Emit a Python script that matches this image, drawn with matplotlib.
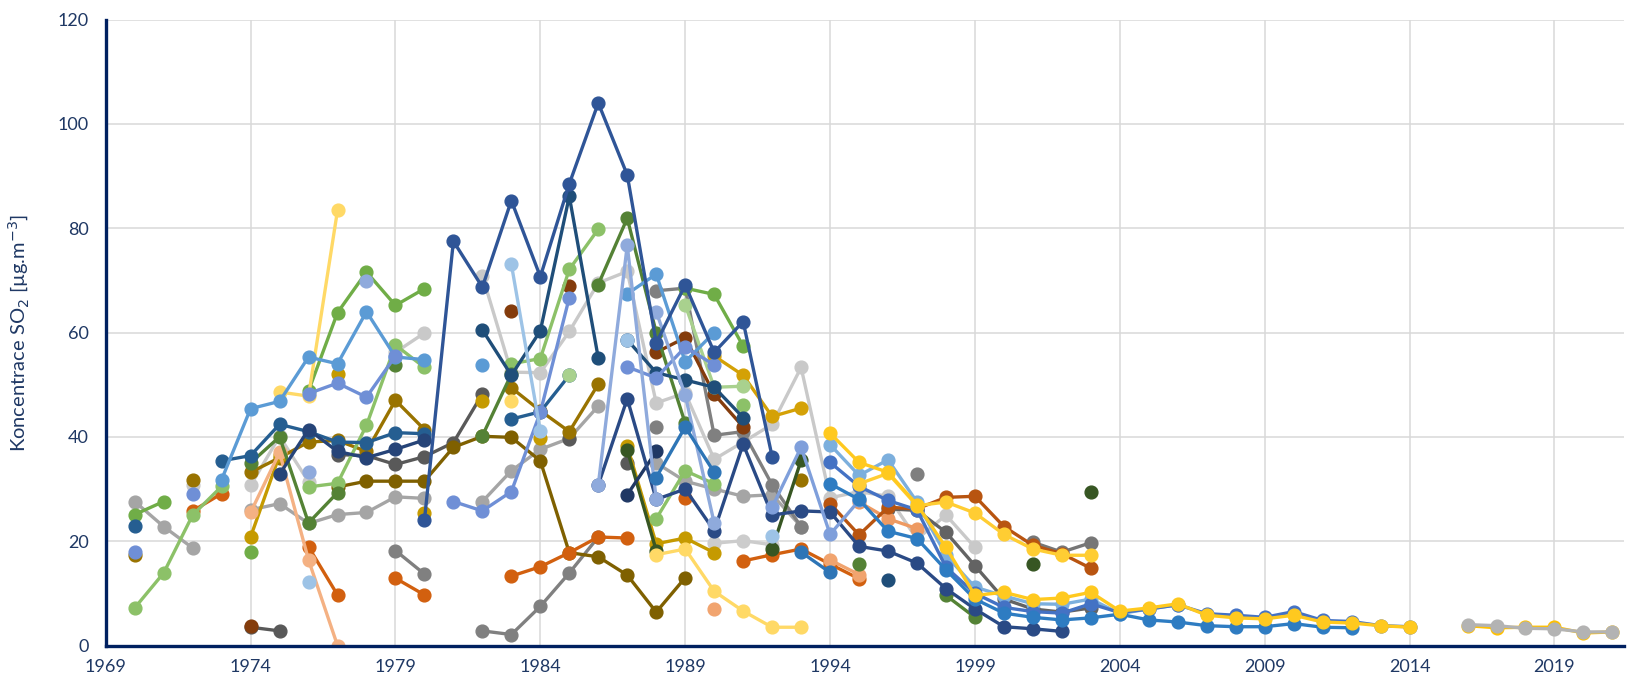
import numpy as np
import matplotlib
matplotlib.use("Agg")
import matplotlib.pyplot as plt

plt.rcParams['font.family'] = ['Lato', 'DejaVu Sans']

N = None
# ---- data: (start year, values) per monitoring series ----
gray_a = [27.6, 22.8, 18.7, N, 26, 27.2, 23.4, 25.1, 25.5, 28.5, 28.2, N, 27.6, 33.5, 37.6, 39.7, 45.9, N, 35, 31.5, 30, 28.6, 28.9, 22.8]
lgray_a = [30.7, N, 30.7, 40.1, 31.4, N, N, 56.2, 59.9, N, 70.9, 52.4, 52.3, 60.2, 69.5, 71.7, 46.5, 48.4, 35.7, 39, 42.4, 53.3, 28.3, 29.5, 28.6, 20.4, 25, 18.8]
lgray_b = [19.6, 20.1, 19.3]
mgray_a = [18.2, 13.7, N, 2.8, 2.1, 7.5, 13.9, 20.8]
mgray_b = [68, 68.5, 40.3, 41, 30.8, 22.8]
mgray_c = [41.8, N, N, N, N, N, N, N, N, 32.8]
mgray_d = [19.8, 17.9, 19.7]
dkgray_a = [3.5, 2.8, N, 36.6, 36.4, 34.7, 36.2, 38.9, 48.2, N, N, 39.5, N, 34.9]
dkgray_b = [26.2, 25.9, 21.7, 15.3, 8.9, 7, 6.4, 7.2]
dkgold = [30.4, 31.5, 31.5, 31.5, 38, 40.1, 39.9, 35.4, 17.8, 17, 13.5, 6.4, 13]
goldbrown = [17.4, N, 31.8, N, 33.2, 36, 39, 39.3, 37.2, 47, 41.4, N, N, 49.4, 45, 41, 50.1, N, N, N, N, N, N, 31.8]
gold_a = [20.8, 36.5, N, 52, N, N, 25.4, N, 46.8, N, 39.7, N, N, 38.2, 19.5, 20.6, 17.8]
gold_b = [55.5, 51.8, 43.9, 45.5]
orange = [25.8, 29.1, N, N, 18.9, 9.7, N, 12.9, 9.7, N, N, 13.3, 15.1, 17.8, 20.8, 20.6, N, 28.2, N, 16.2, 17.4, 18.5, 15.6, 12.8]
peach_a = [25.5, 37, 16.4, 0]
peach_b = [7, N, N, N, 16.4, 13.6]
peach_c = [27.5, 24.3, 22.4]
brown = [3.8, N, N, N, N, N, N, N, N, 64.2, N, 69, N, N, 56.2, 59, 48.2, 41.9]
rust = [27.2, 21.2, 26.5, 26.2, 28.4, 28.6, 22.8, 19.2, 17.6, 14.8]
green = [25.1, 27.6, N, N, 17.9, N, 48.8, 63.8, 71.6, 65.2, 68.4, N, N, N, N, N, N, N, N, 68.5, 67.3, 57.4]
lgreen_a = [7.2, 13.9, 25, 30.5, N, N, 30.4, 31.1, 42.2, 57.6, 53.3, N, N, 54, 55, 72.1, 79.8, N, 24.3, 33.5, 31]
lgreen_b = [46.1]
lgreen2 = [51.8, N, N, N, 65.3, 49.5, 49.7]
dkgreen_a = [35, 40, 23.5, 29.3, N, 53.7, N, N, 40.2, 52, N, N, 69.2, 81.9, 60, 42.6]
dkgreen_b = [15.7, N, N, 9.6, 5.4]
vdkgreen = [37.5, 18.2, N, N, N, 18.5, 35.5, N, N, N, N, N, N, N, 15.7, N, 29.5]
yellow_pale = [48.6, 47.8, 83.4, N, N, N, N, N, 46.8, N, N, N, N, 17.4, 18.5, 10.4, 6.6, 3.5, 3.5]
teal_a = [23, N, N, 35.4, 36.4, 42.4, 41, 39, 38.9, 40.8, 40.6]
teal_b = [43.4, 44.8, 51.8]
teal_c = [60.5, 51.8, 60.3, 86.1, 55.1]
teal_d = [58.6, 52.3, 50.9, 49.5, 43.7]
teal_e = [12.5]
dknavy_a = [32.8, 41.4, 37.2, 36, 37.6, 39.4]
dknavy_b = [28.9, 37.2]
navy_b = [30.8, 47.3, 28, 30, 22, 38.6, 25, 25.8, 25.6, 19, 18.1, 15.8, 10.9, 7, 3.6, 3.2, 2.7]
blue_a = [31.8, 45.4, 46.8, 55.3, 54, 64, 55.3, 54.8, N, 53.8, N, N, N, N, 67.4, 71.2, 54.4, 60]
peri_a = [17.9, N, 29, N, N, N, 48.3, 50.3, 47.6, 55.5, N, 27.6, 25.8, 29.5, 44.7, 66.7]
peri_b = [53.4, 51.3, 57.2, 53.8]
peri_c = [26.5, 38, 21.3, 27.8]
peril_a = [30.8, 76.7, 28]
peril_b = [64, 48, 23.5]
peril_c = [33.2, N, 69.9]
navy_a = [24, 77.5, 68.7, 85.3, 70.7, 88.5, 104, 90.2, 58, 69.1, 56.2, 62.1, 36.2]
lblue_a = [12.2, N, N, N, N, N, N, 73.1, 41.1, N, N, 58.6, N, N, N, N, 21]
lblue_b = [38.5, 32.6, 35.6, 27.5, 17.3, 11.2, 9.5, 8, 7.9, 8.9, 6.1, 7, 7.8]
blue_b = [35.1, 30.5, 27.8, 26, 15, 10, 7.3, 6.5, 6.2, 8, 6.3, 7, 7.8, 6.1, 5.8, 5.4, 6.5, 4.8, 4.6, 3.8, 3.6]
medblue_a = [31, 28, 21.9, 20.5, 14.5, 8.9, 6.2, 5.4, 4.9, 5.3, 6.0, 4.9, 4.5, 3.8, 3.6, 3.6, 4.2, 3.5, 3.4]
medblue_b = [32.2, 41.9, 33.2, N, N, 17.9, 14]
yellow_b = [31, 33, 26.8, 27.5, 25.4, 21.3, 18.5, 17.3, 17.3]
yellow_a = [40.7, 35.1, 33.2, 27, 18.8, 9.6, 10.2, 8.8, 9.1, 10.2, 6.6, 7.2, 8, 5.8, 5.3, 5.1, 5.8, 4.5, 4.3, 3.8, 3.5]
yellow_end = [3.8, 3.4, 3.5, 3.5, 2.4, 2.6]
gray_end = [4.0, 3.8, 3.3, 3.2, 2.6, 2.6]

y_ticks = [0, 20, 40, 60, 80, 100, 120]
x_ticks = [1969, 1974, 1979, 1984, 1989, 1994, 1999, 2004, 2009, 2014, 2019]
y_label = "Koncentrace SO$_2$ [µg.m$^{-3}$]"

# (start year, values, colour) in drawing order
SERIES = [
    (1970, gray_a, "#A5A5A5"), (1972, lgray_a, "#C9C9C9"), (1990, lgray_b, "#CCCCCC"),
    (1979, mgray_a, "#808080"), (1988, mgray_b, "#808080"), (1988, mgray_c, "#7F7F7F"),
    (2001, mgray_d, "#767676"), (1974, dkgray_a, "#595959"), (1996, dkgray_b, "#636363"),
    (1977, dkgold, "#7F6000"), (1970, goldbrown, "#997300"), (1974, gold_a, "#C59A00"),
    (1990, gold_b, "#D4A106"), (1972, orange, "#D2600F"), (1974, peach_a, "#F4B183"),
    (1990, peach_b, "#F1A46F"), (1995, peach_c, "#EE9A62"), (1974, brown, "#843C0C"),
    (1994, rust, "#B85410"), (1970, green, "#70AD47"), (1970, lgreen_a, "#8CC168"),
    (1991, lgreen_b, "#8CC168"), (1974, dkgreen_a, "#548235"),
    (1995, dkgreen_b, "#548235"), (1987, vdkgreen, "#375623"), (1975, yellow_pale, "#FFD966"),
    (1970, teal_a, "#255E91"), (1983, teal_b, "#255E91"), (1985, lgreen2, "#A9D18E"),
    (1982, teal_c, "#1F4E79"),
    (1987, teal_d, "#1F4E79"), (1996, teal_e, "#1F4E79"), (1975, dknavy_a, "#264478"),
    (1987, dknavy_b, "#203864"), (1986, navy_b, "#2A4A85"), (1973, blue_a, "#5B9BD5"),
    (1970, peri_a, "#6F8FD6"), (1987, peri_b, "#6F8FD6"), (1992, peri_c, "#7F9FDB"),
    (1986, peril_a, "#8FAADC"), (1988, peril_b, "#8FAADC"), (1976, peril_c, "#8FAADC"),
    (1980, navy_a, "#2F5597"), (1976, lblue_a, "#9DC3E6"), (1994, lblue_b, "#7CAFDD"),
    (1994, blue_b, "#4472C4"), (1994, medblue_a, "#2E7CC2"), (1988, medblue_b, "#2E75B6"),
    (1995, yellow_b, "#FFCD33"), (1994, yellow_a, "#FFC91F"), (2016, yellow_end, "#FFC000"),
    (2016, gray_end, "#B3B3B3"),
]

fig = plt.figure(figsize=(16.29, 6.8), dpi=100)
ax = fig.add_axes([105.7 / 1629, 34.5 / 680, (1624 - 105.7) / 1629, (645.5 - 19.5) / 680])

for start, vals, col in SERIES:
    y = np.array([np.nan if v is None else v for v in vals], dtype=float)
    x = np.arange(start, start + len(y))
    ax.plot(x, y, color=col, lw=2.4, marker='o', ms=9.2, mec=col, mfc=col,
            solid_capstyle='round', zorder=3)

ax.set_xlim(1969, 2021.4)
ax.set_ylim(0, 120)
ax.set_xticks(x_ticks)
ax.set_yticks(y_ticks)
ax.grid(True, color="#D9D9D9", lw=1.1, zorder=0)
ax.set_axisbelow(True)
txtc = "#1F3864"
ax.tick_params(axis='both', length=0, labelsize=13, labelcolor=txtc)
ax.tick_params(axis='x', pad=10)
ax.tick_params(axis='y', pad=12)
for s in ['top', 'right']:
    ax.spines[s].set_visible(False)
for s in ['left', 'bottom']:
    ax.spines[s].set_color("#002060")
    ax.spines[s].set_linewidth(2.4)
    ax.spines[s].set_zorder(5)
ax.set_ylabel(y_label, color=txtc, fontsize=14.5)
ax.yaxis.set_label_coords(-0.049, 0.5)

fig.savefig("out.png", dpi=100)
